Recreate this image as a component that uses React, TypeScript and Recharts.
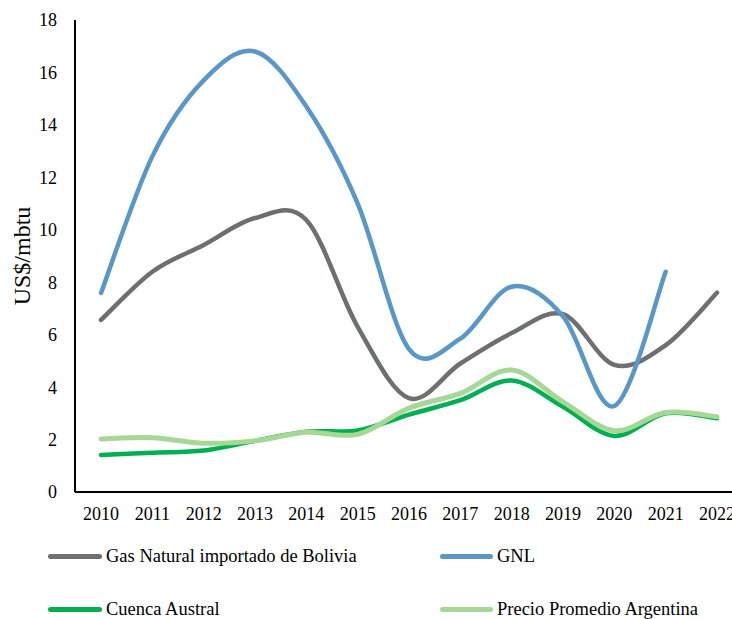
import React from 'react';
import { LineChart, Line, XAxis, YAxis, Label } from 'recharts';

const years = ['2010', '2011', '2012', '2013', '2014', '2015', '2016', '2017', '2018', '2019', '2020', '2021', '2022'];
const gasBolivia = [6.56, 8.4, 9.42, 10.45, 10.37, 6.3, 3.58, 4.9, 6.06, 6.78, 4.85, 5.6, 7.6];
const gnl: (number | null)[] = [7.59, 12.8, 15.7, 16.8, 14.7, 11.0, 5.45, 5.85, 7.83, 6.7, 3.28, 8.4, null];
const cuencaAustral = [1.41, 1.5, 1.58, 1.95, 2.3, 2.35, 2.95, 3.5, 4.25, 3.25, 2.14, 3.0, 2.81];
const precioPromedio = [2.02, 2.07, 1.86, 1.95, 2.28, 2.2, 3.2, 3.76, 4.65, 3.44, 2.34, 3.03, 2.87];
const yTicks = [0, 2, 4, 6, 8, 10, 12, 14, 16, 18];

const seriesNames = ['Gas Natural importado de Bolivia', 'GNL', 'Cuenca Austral', 'Precio Promedio Argentina'];
const seriesColors = ['#6e6f70', '#5897c7', '#00b050', '#a5d795'];

const data = years.map((y, i) => ({
  year: y,
  gas: gasBolivia[i],
  gnl: gnl[i],
  cuenca: cuencaAustral[i],
  precio: precioPromedio[i],
}));

const FONT = "'Liberation Serif', 'Times New Roman', serif";

// Excel-like smoothed line (Catmull-Rom Bezier)
function excelCurve(context: any) {
  let xs: number[] = [];
  let ys: number[] = [];
  return {
    areaStart() {},
    areaEnd() {},
    lineStart() {
      xs = [];
      ys = [];
    },
    point(x: number, y: number) {
      xs.push(+x);
      ys.push(+y);
    },
    lineEnd() {
      const n = xs.length;
      if (n === 0) return;
      context.moveTo(xs[0], ys[0]);
      if (n === 1) return;
      for (let i = 0; i < n - 1; i++) {
        const x0 = i > 0 ? xs[i - 1] : xs[i];
        const y0 = i > 0 ? ys[i - 1] : ys[i];
        const x1 = xs[i], y1 = ys[i];
        const x2 = xs[i + 1], y2 = ys[i + 1];
        const x3 = i + 2 < n ? xs[i + 2] : xs[i + 1];
        const y3 = i + 2 < n ? ys[i + 2] : ys[i + 1];
        context.bezierCurveTo(
          x1 + (x2 - x0) / 6,
          y1 + (y2 - y0) / 6,
          x2 - (x3 - x1) / 6,
          y2 - (y3 - y1) / 6,
          x2,
          y2
        );
      }
    },
  };
}

const keys = ['gas', 'gnl', 'cuenca', 'precio'];
const legendPos = [
  { left: 48, lineW: 54, textLeft: 106, top: 556 },
  { left: 440, lineW: 53, textLeft: 497, top: 556 },
  { left: 48, lineW: 54, textLeft: 106, top: 609 },
  { left: 440, lineW: 53, textLeft: 497, top: 609 },
];

const YLabel = () => (
  <text
    x={22}
    y={256}
    transform="rotate(-90, 22, 256)"
    textAnchor="middle"
    dominantBaseline="central"
    fill="#000"
    fontSize={24}
    fontFamily={FONT}
  >
    US$/mbtu
  </text>
);

const tickStyle = { fill: '#000', fontSize: 18, fontFamily: FONT, style: { fontFamily: FONT } };

export default function App() {
  return (
    <div style={{ position: 'absolute', left: 0, top: 0, width: 732, height: 619, overflow: 'hidden', background: '#fff', fontFamily: FONT }}>
      <LineChart
        width={743}
        height={619}
        data={data}
        margin={{ top: 20, right: 0, bottom: 97, left: 0 }}
        style={{ fontFamily: FONT }}
      >
        <XAxis
          dataKey="year"
          padding={{ left: 26, right: 26 }}
          axisLine={{ stroke: '#000', strokeWidth: 2 }}
          tickLine={false}
          tickSize={0}
          tickMargin={15}
          height={30}
          interval={0}
          tick={tickStyle}
        />
        <YAxis
          width={75}
          domain={[0, 18]}
          ticks={yTicks}
          axisLine={{ stroke: '#000', strokeWidth: 2 }}
          tickLine={false}
          tickSize={0}
          tickMargin={18}
          interval={0}
          tick={tickStyle}
        >
          <Label content={<YLabel />} />
        </YAxis>
        {keys.map((k, i) => (
          <Line
            key={k}
            dataKey={k}
            name={seriesNames[i]}
            type={excelCurve as any}
            stroke={seriesColors[i]}
            strokeWidth={i === 3 ? 5 : 4.5}
            strokeLinecap="round"
            dot={false}
            activeDot={false}
            isAnimationActive={false}
          />
        ))}
      </LineChart>
      {seriesNames.map((name, i) => {
        const p = legendPos[i];
        return (
          <React.Fragment key={name}>
            <div
              style={{
                position: 'absolute',
                left: p.left,
                top: p.top - 2.5,
                width: p.lineW,
                height: 5,
                borderRadius: 3,
                background: seriesColors[i],
              }}
            />
            <div
              style={{
                position: 'absolute',
                left: p.textLeft,
                top: p.top - 12,
                height: 24,
                lineHeight: '24px',
                fontSize: 18.5,
                fontFamily: FONT,
                color: '#000',
                whiteSpace: 'nowrap',
              }}
            >
              {name}
            </div>
          </React.Fragment>
        );
      })}
    </div>
  );
}
